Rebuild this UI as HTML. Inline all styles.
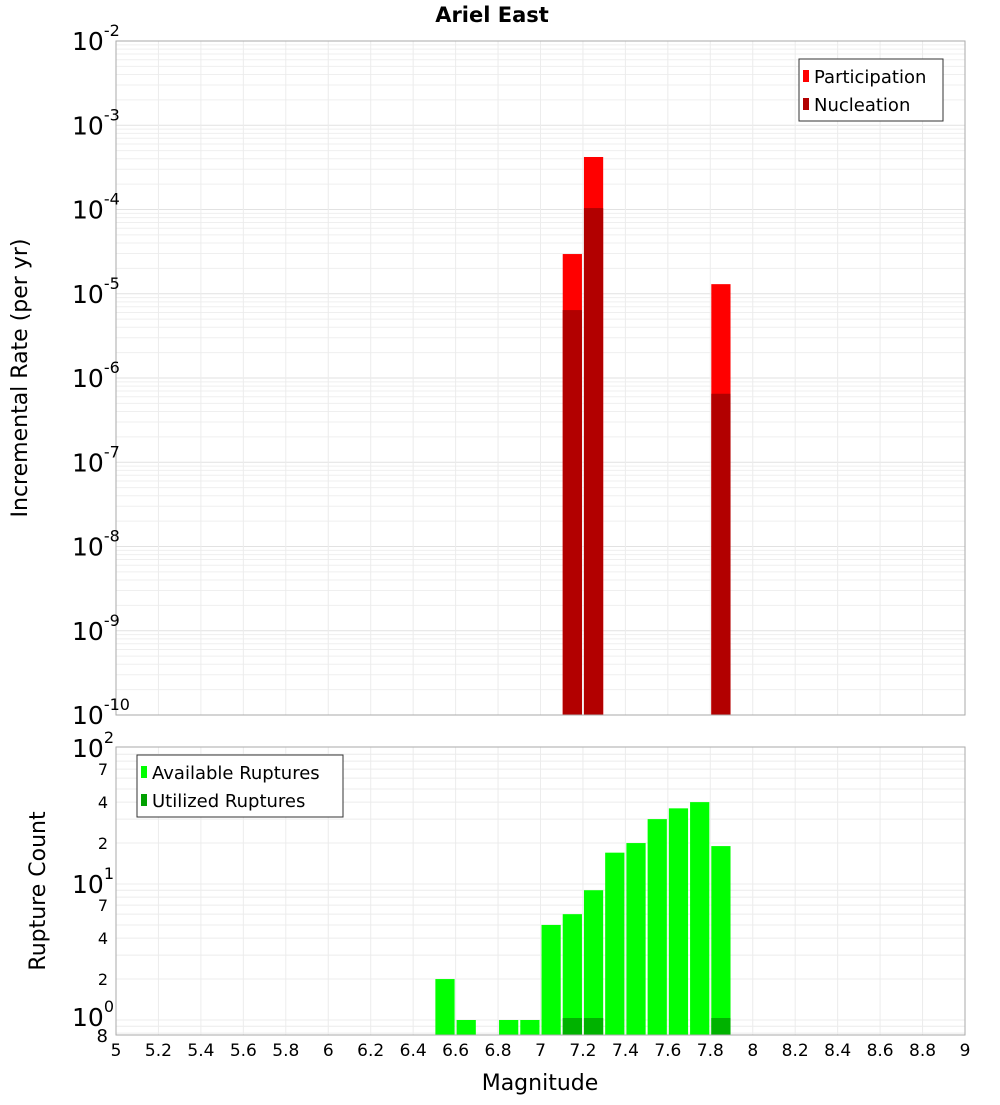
<!DOCTYPE html>
<html><head><meta charset="utf-8"><style>
body{margin:0;background:#fff;font-family:"Liberation Sans","DejaVu Sans",sans-serif;}
svg text{font-family:"DejaVu Sans","Liberation Sans",sans-serif;}
</style></head><body>
<svg id="chart" width="1000" height="1100" xmlns="http://www.w3.org/2000/svg">
<text x="492" y="22" text-anchor="middle" font-size="21" font-weight="bold">Ariel East</text>
<g id="topG"></g>
<g id="botG"></g>
<text transform="translate(27,378) rotate(-90)" text-anchor="middle" font-size="22">Incremental Rate (per yr)</text>
<text transform="translate(45,891) rotate(-90)" text-anchor="middle" font-size="22">Rupture Count</text>
<text x="540" y="1090" text-anchor="middle" font-size="22">Magnitude</text>
</svg>
<script>
const binCenters=[7.15,7.25,7.85];
const participation=[2.96e-5,4.2e-4,1.3e-5];
const nucleation=[6.4e-6,1.04e-4,6.5e-7];
const countBins=[6.55,6.65,6.85,6.95,7.05,7.15,7.25,7.35,7.45,7.55,7.65,7.75,7.85];
const available=[2,1,1,1,5,6,9,17,20,30,36,40,19];
const utilizedBins=[7.15,7.25,7.85];
const utilized=[1,1,1];
const xTicks=["5","5.2","5.4","5.6","5.8","6","6.2","6.4","6.6","6.8","7","7.2","7.4","7.6","7.8","8","8.2","8.4","8.6","8.8","9"];

const NS="http://www.w3.org/2000/svg";
const X0=116,X1=965;
const xs=m=>X0+(m-5)/4*(X1-X0);
const T0=41,T1=715;
const yt=v=>T1-(Math.log10(v)+10)/8*(T1-T0);
const B0=747,B1=1035,BPD=136,BONE=1020;
const yb=v=>BONE-Math.log10(v)*BPD;
function mk(tag,attrs,parent,text){const e=document.createElementNS(NS,tag);for(const k in attrs)e.setAttribute(k,attrs[k]);if(text!==undefined)e.textContent=text;parent.appendChild(e);return e;}
const topG=document.getElementById('topG'),botG=document.getElementById('botG');

for(let d=-10;d<-2;d++){for(let k=1;k<10;k++){const y=yt(k*Math.pow(10,d));const g=mk('line',{x1:X0,x2:X1,y1:y,y2:y,stroke:k==1?'#e2e2e2':'#efefef','stroke-width':1},topG);

}}
for(let d=-1;d<2;d++){for(let k=1;k<10;k++){const v=k*Math.pow(10,d);const y=yb(v);if(y>B1||y<B0)continue;const g=mk('line',{x1:X0,x2:X1,y1:y,y2:y,stroke:'#ececec','stroke-width':1},botG);

}}
xTicks.forEach((t,i)=>{const x=xs(+t);
[[T0,T1,topG],[B0,B1,botG]].forEach(([a,b,p])=>{const g=mk('line',{x1:x,x2:x,y1:a,y2:b,stroke:'#ececec'},p);

});
const l=mk('text',{x:x,y:1056,'text-anchor':'middle','font-size':17},botG,t);

});

const bw=xs(5.1)-xs(5)-2;
binCenters.forEach((m,i)=>{const x=xs(m)-bw/2;
const p=mk('rect',{x:x,y:yt(participation[i]),width:bw,height:T1-yt(participation[i]),fill:'#ff0000'},topG);


const n=mk('rect',{x:x,y:yt(nucleation[i]),width:bw,height:T1-yt(nucleation[i]),fill:'#b20000'},topG);

});
const fr=mk('rect',{x:X0,y:T0,width:X1-X0,height:T1-T0,fill:'none',stroke:'#aaa'},topG);


for(let d=-10;d<=-2;d++){const y=yt(Math.pow(10,d));
const t=mk('text',{x:72,y:y+9,'font-size':25},topG);


mk('tspan',{},t,'10');mk('tspan',{dy:-14,'font-size':16},t,String(d));}

countBins.forEach((m,i)=>{const y=yb(available[i]);
const r=mk('rect',{x:xs(m)-bw/2,y:y,width:bw,height:B1-y,fill:'#00ff00'},botG);

});
utilizedBins.forEach((m,i)=>{const y=yb(utilized[i])-2;
const r=mk('rect',{x:xs(m)-bw/2,y:y,width:bw,height:B1-y,fill:'#00b200'},botG);

});
const fb=mk('rect',{x:X0,y:B0,width:X1-X0,height:B1-B0,fill:'none',stroke:'#aaa'},botG);


[[0,1026],[1,893],[2,757]].forEach(([d,y])=>{const t=mk('text',{x:72,y:y,'font-size':25},botG);


mk('tspan',{},t,'10');mk('tspan',{dy:-14,'font-size':16},t,String(d));});
[[2,0],[4,0],[7,0],[2,1],[4,1],[7,1]].forEach(([k,d])=>{const y=yb(k*Math.pow(10,d));
const t=mk('text',{x:108,y:y+6,'text-anchor':'end','font-size':16},botG,String(k));

});
const e8=mk('text',{x:108,y:1042,'text-anchor':'end','font-size':18},botG,'8');



function legend(p,x,y,w,items,name){const g=mk('g',{},p);


mk('rect',{x:x,y:y,width:w,height:items.length*28+6,fill:'#fff',stroke:'#333'},g);
items.forEach(([c,t],i)=>{mk('rect',{x:x+4,y:y+11+i*28,width:6,height:12,fill:c},g);
const tx=mk('text',{x:x+15,y:y+24+i*28,'font-size':18},g,t);

});}
legend(topG,799,59,144,[['#ff0000','Participation'],['#b20000','Nucleation']],'rate-legend');
legend(botG,137,755,206,[['#00ff00','Available Ruptures'],['#00a000','Utilized Ruptures']],'count-legend');
</script>
</body></html>
